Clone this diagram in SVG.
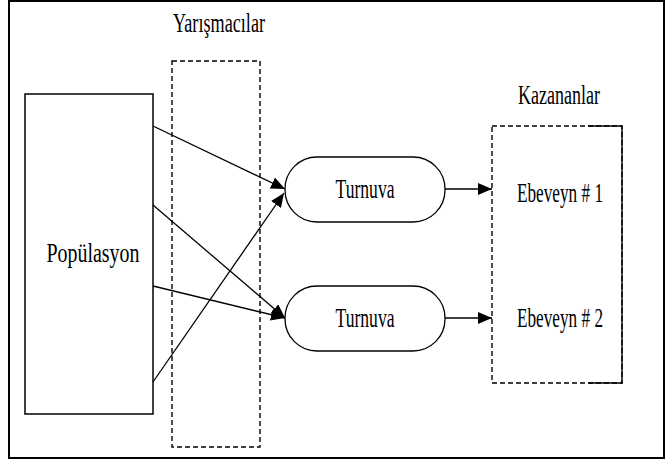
<svg xmlns="http://www.w3.org/2000/svg" width="665" height="462" viewBox="0 0 665 462">
  <style>
    .solid { fill: #ffffff; stroke: #000000; stroke-width: 1.5; }
    .dash { fill: none; stroke: #000000; stroke-width: 1.4; stroke-dasharray: 5 3; }
    .pill { fill: #ffffff; stroke: #000000; stroke-width: 1.3; }
    .edge { fill: none; stroke: #000000; stroke-width: 1.3; marker-end: url(#arrow); }
    text { font-family: "Liberation Serif", "DejaVu Serif", serif; font-size: 27px; fill: #000000; text-anchor: middle; }
  </style>
  <defs>
    <marker id="arrow" markerUnits="userSpaceOnUse" markerWidth="14" markerHeight="12" viewBox="0 0 14 12" refX="14" refY="6" orient="auto">
      <path d="M0,0 L14,6 L0,12 z" fill="#000000"/>
    </marker>
  </defs>

  <!-- frame -->
  <rect x="9" y="1" width="655" height="457" fill="#ffffff" stroke="#000000" stroke-width="2"/>

  <!-- group labels -->
  <text x="219" y="32" font-family="Liberation Serif, serif" textLength="92" lengthAdjust="spacingAndGlyphs">Yarışmacılar</text>
  <text x="559" y="104" font-family="Liberation Serif, serif" textLength="82" lengthAdjust="spacingAndGlyphs">Kazananlar</text>

  <g id="population">
    <rect class="solid" x="25" y="94" width="128" height="320"/>
    <text x="93" y="262" font-family="Liberation Serif, serif" textLength="93" lengthAdjust="spacingAndGlyphs">Popülasyon</text>
  </g>

  <g id="competitors">
    <rect class="dash" x="172" y="61" width="88" height="386"/>
  </g>

  <g id="winners">
    <rect class="dash" x="492" y="126" width="130" height="257"/>
    <path d="M588,126 H622 V383 H588" fill="none" stroke="#000000" stroke-width="1.4"/>
    <text x="560" y="202" font-family="Liberation Serif, serif" textLength="86" lengthAdjust="spacingAndGlyphs">Ebeveyn # 1</text>
    <text x="560" y="327" font-family="Liberation Serif, serif" textLength="86" lengthAdjust="spacingAndGlyphs">Ebeveyn # 2</text>
  </g>

  <g id="tournament1">
    <rect class="pill" x="285" y="157" width="160" height="65" rx="32" ry="32"/>
    <text x="365" y="198" font-family="Liberation Serif, serif" textLength="59" lengthAdjust="spacingAndGlyphs">Turnuva</text>
  </g>

  <g id="tournament2">
    <rect class="pill" x="285" y="286" width="160" height="65" rx="32" ry="32"/>
    <text x="365" y="327" font-family="Liberation Serif, serif" textLength="59" lengthAdjust="spacingAndGlyphs">Turnuva</text>
  </g>

  <g id="connectors">
    <line class="edge" x1="153" y1="126" x2="285" y2="189"/>
    <line class="edge" x1="153" y1="205" x2="285" y2="318"/>
    <line class="edge" x1="153" y1="286" x2="285" y2="318"/>
    <line class="edge" x1="153" y1="382" x2="284" y2="193"/>
    <line class="edge" x1="445" y1="189" x2="492" y2="189"/>
    <line class="edge" x1="445" y1="318" x2="492" y2="318"/>
  </g>
</svg>
